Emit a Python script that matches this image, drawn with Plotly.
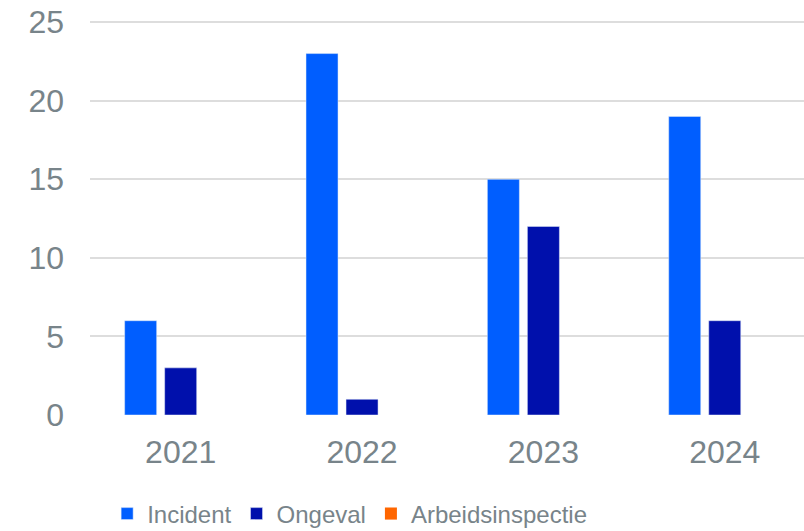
import plotly.graph_objects as go

years = ["2021", "2022", "2023", "2024"]
incident = [6, 23, 15, 19]
ongeval = [3, 1, 12, 6]
arbeidsinspectie = [0, 0, 0, 0]

tick_font = dict(family="Liberation Sans, Arial, sans-serif", size=32, color="#78848A")
legend_font = dict(family="Liberation Sans, Arial, sans-serif", size=24, color="#78848A")

fig = go.Figure()
fig.add_bar(x=years, y=incident, name="Incident", marker_color="#005EFF")
fig.add_bar(x=years, y=ongeval, name="Ongeval", marker_color="#0010AC")
fig.add_bar(x=years, y=arbeidsinspectie, name="Arbeidsinspectie", marker_color="#FF6600",
            marker_line_width=0)

fig.update_layout(
    width=804, height=531,
    margin=dict(l=90, r=0, t=19, b=116, autoexpand=False),
    paper_bgcolor="white", plot_bgcolor="white",
    barmode="group", bargap=0.338, bargroupgap=0.2,
    showlegend=True,
    legend=dict(orientation="h", x=0.024, xanchor="left", y=-0.25, yanchor="middle",
                font=legend_font, traceorder="normal", itemwidth=30),
)
fig.update_xaxes(type="category", range=[-0.5, 3.437], showgrid=False, zeroline=False,
                 showline=False, ticks="", tickfont=tick_font, ticklabelstandoff=15)
fig.update_yaxes(range=[0, 25.2], tickvals=[0, 5, 10, 15, 20, 25], showgrid=True,
                 gridcolor="#DDDDDD", gridwidth=2, zeroline=False, showline=False,
                 ticks="", tickfont=tick_font, ticklabelstandoff=25,
                 ticklabeloverflow="allow")

fig.write_html("out.html", config={"displayModeBar": False},
               post_script="document.body.style.margin='0';document.body.style.overflow='hidden';")
